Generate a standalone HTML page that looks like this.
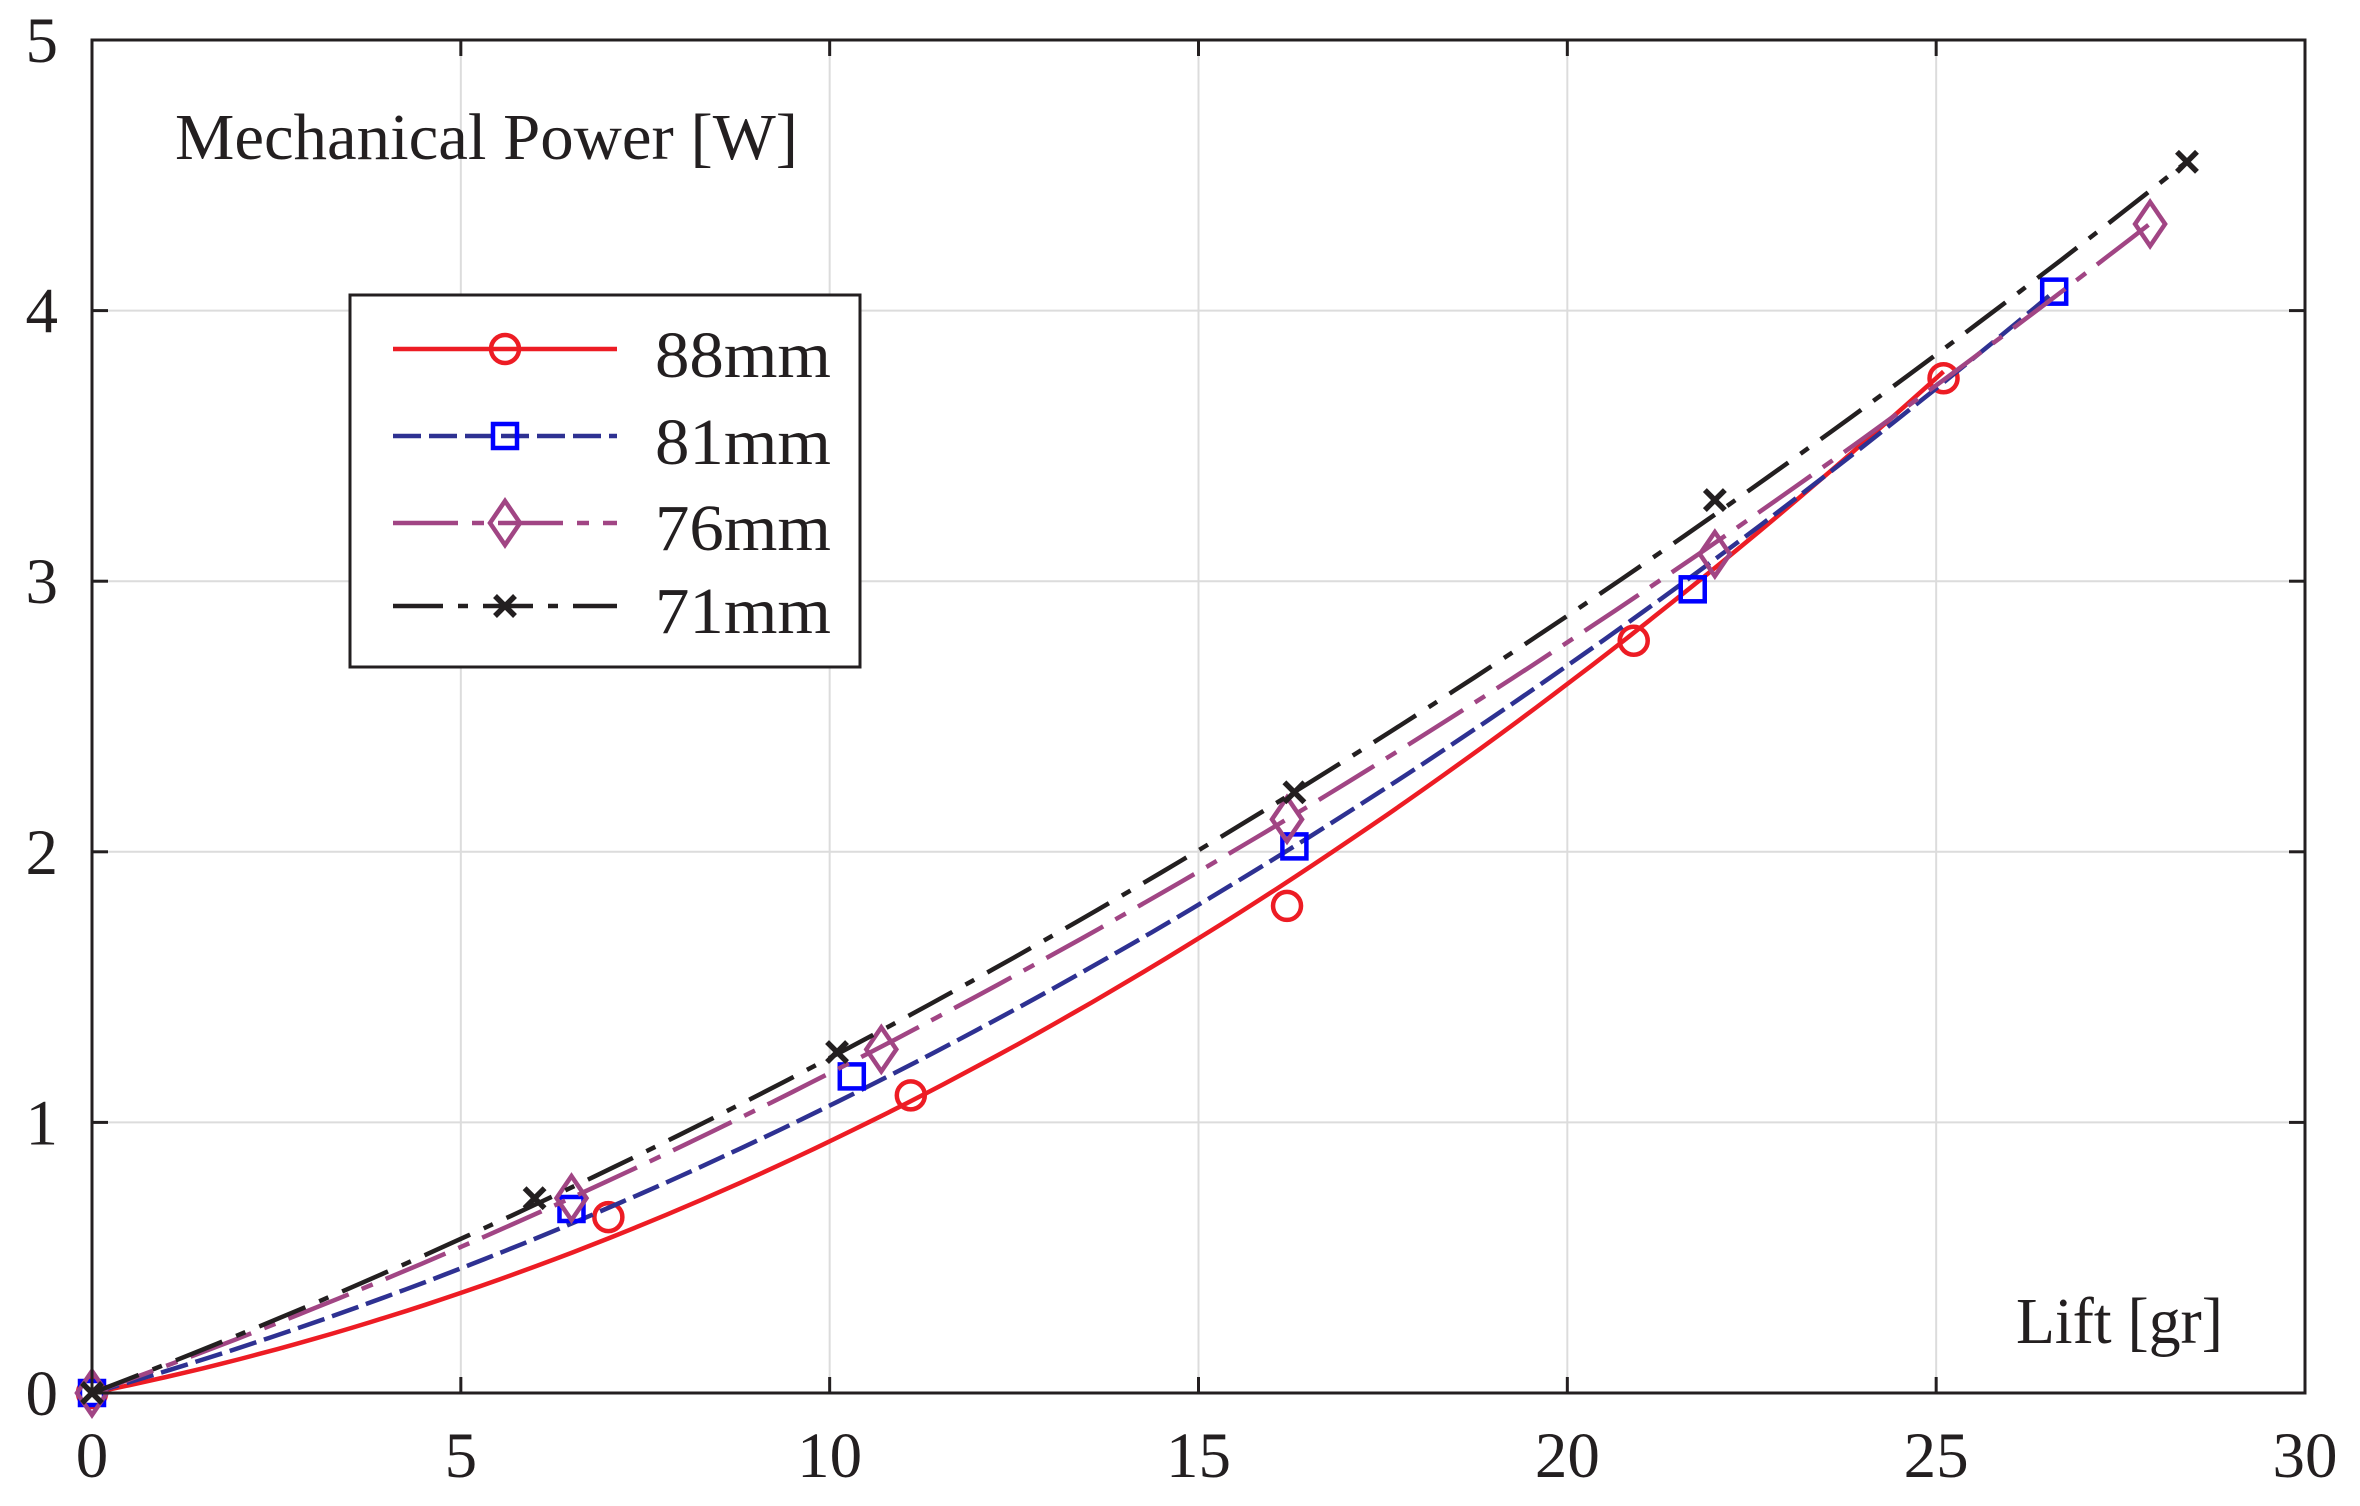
<!DOCTYPE html>
<html><head><style>body{margin:0;background:#fff}svg{display:block}text{font-family:"Liberation Serif",serif;fill:#231f20}</style></head>
<body>
<svg id="s" width="2360" height="1506" xmlns="http://www.w3.org/2000/svg">
<g id="grid" stroke="#dcdcdc" stroke-width="2"></g>
<g id="series"></g>
<rect x="92" y="40" width="2213" height="1353" fill="none" stroke="#231f20" stroke-width="3"/>
<g id="ticks" stroke="#231f20" stroke-width="3"></g>
<g id="labels" font-size="65"></g>
<text x="175" y="159" font-size="66" textLength="623" lengthAdjust="spacingAndGlyphs">Mechanical Power [W]</text>
<text x="2016" y="1343" font-size="66" textLength="207" lengthAdjust="spacingAndGlyphs">Lift [gr]</text>
<rect x="350" y="295" width="510" height="372" fill="#fff" stroke="#231f20" stroke-width="3"/>
<g id="legend"></g>
</svg>
<script>
const X0=92,X1=2305,Y0=1393,Y1=40;
const sx=v=>X0+(X1-X0)*v/30, sy=v=>Y0-(Y0-Y1)*v/5;
const NS="http://www.w3.org/2000/svg";
function el(p,t,a){const e=document.createElementNS(NS,t);for(const k in a)e.setAttribute(k,a[k]);p.appendChild(e);return e;}
const G=document.getElementById('grid'),T=document.getElementById('ticks'),L=document.getElementById('labels');
for(let i=0;i<=6;i++){const x=sx(i*5);if(i>0&&i<6)el(G,'line',{x1:x,x2:x,y1:Y1,y2:Y0});
 if(i>0&&i<6){el(T,'line',{x1:x,x2:x,y1:Y0,y2:Y0-16});el(T,'line',{x1:x,x2:x,y1:Y1,y2:Y1+16});}
 el(L,'text',{x:x,y:1477,'text-anchor':'middle'}).textContent=i*5;}
for(let j=0;j<=5;j++){const y=sy(j);if(j>0&&j<5)el(G,'line',{x1:X0,x2:X1,y1:y,y2:y});
 if(j>0&&j<5){el(T,'line',{x1:X0,x2:X0+16,y1:y,y2:y});el(T,'line',{x1:X1,x2:X1-16,y1:y,y2:y});}
 el(L,'text',{x:58,y:y+22,'text-anchor':'end'}).textContent=j;}
const S=[
{c:'#ed1c24',mc:'#ed1c24',d:'',a:.055,b:.0038,xm:25.1,m:'o',p:[[0,0],[7,.65],[11.1,1.1],[16.2,1.8],[20.9,2.78],[25.1,3.75]]},
{c:'#2e3192',mc:'#0000ff',d:'28 8',a:.078,b:.00282,xm:26.6,m:'s',p:[[0,0],[6.5,.68],[10.3,1.17],[16.3,2.02],[21.7,2.97],[26.6,4.07]]},
{c:'#a14584',mc:'#a14584',d:'65 14 12 14',a:.0977,b:.00205,xm:27.9,m:'d',p:[[0,0],[6.5,.72],[10.7,1.27],[16.2,2.12],[22,3.1],[27.9,4.32]]},
{c:'#231f20',mc:'#231f20',d:'50 15 10 15',a:.104,b:.00198,xm:28.4,m:'x',p:[[0,0],[6,.72],[10.1,1.26],[16.3,2.22],[22,3.3],[28.4,4.55]]}];
const SG=document.getElementById('series'),LG=document.getElementById('legend');
function marker(g,s,x,y){
 if(s.m=='o')el(g,'circle',{cx:x,cy:y,r:14,fill:'none',stroke:s.mc,'stroke-width':4.5});
 if(s.m=='s')el(g,'rect',{x:x-12,y:y-12,width:24,height:24,fill:'none',stroke:s.mc,'stroke-width':4.5});
 if(s.m=='d')el(g,'polygon',{points:`${x},${y-22} ${x+15},${y} ${x},${y+22} ${x-15},${y}`,fill:'none',stroke:s.mc,'stroke-width':4.5});
 if(s.m=='x')el(g,'path',{d:`M${x-10} ${y-10}L${x+10} ${y+10}M${x+10} ${y-10}L${x-10} ${y+10}`,stroke:s.mc,'stroke-width':5.5});}
S.forEach((s,i)=>{let pts=[];for(let k=0;k<=100;k++){const v=s.xm*k/100;pts.push(sx(v).toFixed(1)+','+sy(s.a*v+s.b*v*v).toFixed(1));}
 el(SG,'polyline',{points:pts.join(' '),fill:'none',stroke:s.c,'stroke-width':4.5,'stroke-dasharray':s.d});
 s.p.forEach(q=>marker(SG,s,sx(q[0]),sy(q[1])));
 const ly=[349,436,523,606][i];
 el(LG,'line',{x1:393,x2:617,y1:ly,y2:ly,stroke:s.c,'stroke-width':4.5,'stroke-dasharray':s.d});
 marker(LG,s,505,ly);
 el(LG,'text',{x:655,y:[377,464,550,633][i],'font-size':66,textLength:176,lengthAdjust:'spacingAndGlyphs'}).textContent=['88mm','81mm','76mm','71mm'][i];});
</script>
</body></html>
